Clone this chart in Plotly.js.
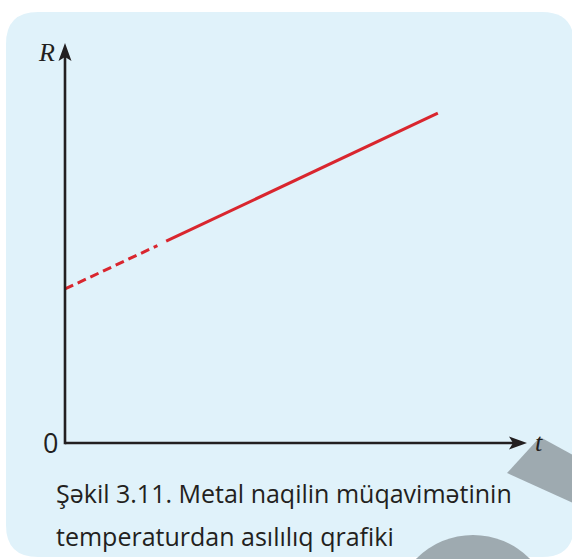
<!DOCTYPE html>
<html>
<head>
<meta charset="utf-8">
<script src="https://cdn.plot.ly/plotly-3.0.1.min.js"></script>
<style>html,body{margin:0;padding:0;background:#fff;}#chart{width:572px;height:559px;}</style>
</head>
<body>
<div id="chart"></div>
<script>
// Data (arbitrary units)
const tDashed = [0, 2.0];
const rDashed = [3.87, 4.96];
const tSolid = [2.19, 8.07];
const rSolid = [5.07, 8.29];
const axisLabels = {x: "t", y: "R", origin: "0"};
const captionLines = ["Şəkil 3.11. Metal naqilin müqavimətinin", "temperaturdan asılılıq qrafiki"];

const W = 572, H = 559;
const px = x => x / W;
const py = y => 1 - y / H;
const ox = 65, oy = 443, xEnd = 527, yTop = 45;   // axis domain in pixels
const xTip = 527, yTip = 43;                       // arrow tips

const red = "#d9262e";
const ink = "#231f20";
const grayShape = "#9eaab0";

const traces = [
  {x: tDashed, y: rDashed, mode: "lines", line: {color: red, width: 3, dash: "9px,5px"}, hoverinfo: "skip"},
  {x: tSolid, y: rSolid, mode: "lines", line: {color: red, width: 3}, hoverinfo: "skip"}
];

function roundRect(x0, y0, x1, y1, r) {
  const P = (x, y) => px(x) + "," + py(y);
  return "M" + P(x0 + r, y0) + " L" + P(x1 - r, y0) + " Q" + P(x1, y0) + " " + P(x1, y0 + r) +
    " L" + P(x1, y1 - r) + " Q" + P(x1, y1) + " " + P(x1 - r, y1) +
    " L" + P(x0 + r, y1) + " Q" + P(x0, y1) + " " + P(x0, y1 - r) +
    " L" + P(x0, y0 + r) + " Q" + P(x0, y0) + " " + P(x0 + r, y0) + " Z";
}
function poly(pts) {
  return "M" + pts.map(p => px(p[0]) + "," + py(p[1])).join(" L") + " Z";
}
// notched arrowhead: tip at (tx,ty), direction (dx,dy) unit, length L, half-width hw, notch n
function arrowHead(tx, ty, dx, dy, L, hw, n) {
  const nx = -dy, ny = dx;
  const bx = tx - dx * L, by = ty - dy * L;
  return poly([[tx, ty], [bx + nx * hw, by + ny * hw], [tx - dx * (L - n), ty - dy * (L - n)], [bx - nx * hw, by - ny * hw]]);
}

const shapes = [
  {type: "path", xref: "paper", yref: "paper", path: roundRect(6, 12, 574, 557, 32), fillcolor: "#e0f2fa", line: {width: 0}, layer: "below"},
  {type: "path", xref: "paper", yref: "paper", path: poly([[507, 473], [540, 437], [580, 459], [580, 506]]), fillcolor: grayShape, line: {width: 0}, layer: "below"},
  {type: "circle", xref: "paper", yref: "paper", x0: px(473 - 80), x1: px(473 + 80), y0: py(615 + 80), y1: py(615 - 80), fillcolor: grayShape, line: {width: 0}, layer: "below"},
  // axes
  {type: "line", xref: "paper", yref: "paper", x0: px(ox), y0: py(oy), x1: px(xTip - 10), y1: py(oy), line: {color: ink, width: 2.6}, layer: "above"},
  {type: "line", xref: "paper", yref: "paper", x0: px(ox), y0: py(oy + 1.3), x1: px(ox), y1: py(yTip + 10), line: {color: ink, width: 2.6}, layer: "above"},
  {type: "path", xref: "paper", yref: "paper", path: arrowHead(xTip, oy, 1, 0, 18, 6.5, 4), fillcolor: ink, line: {width: 0}, layer: "above"},
  {type: "path", xref: "paper", yref: "paper", path: arrowHead(ox, yTip, 0, -1, 18, 6.5, 4), fillcolor: ink, line: {width: 0}, layer: "above"}
];

const annotations = [
  {xref: "paper", yref: "paper", x: px(47), y: py(53), text: "<i>" + axisLabels.y + "</i>", showarrow: false,
   font: {family: "Liberation Serif", size: 26, color: ink}, xanchor: "center", yanchor: "middle"},
  {xref: "paper", yref: "paper", x: px(539), y: py(442), text: "<i>" + axisLabels.x + "</i>", showarrow: false,
   font: {family: "Liberation Serif", size: 26, color: ink}, xanchor: "center", yanchor: "middle"},
  {xref: "paper", yref: "paper", x: px(50), y: py(442), text: axisLabels.origin, showarrow: false,
   font: {family: "Open Sans", size: 27, color: ink}, xanchor: "center", yanchor: "middle"},
  {xref: "paper", yref: "paper", x: px(54), y: py(493), text: captionLines[0], showarrow: false,
   font: {family: "Open Sans", size: 25, color: ink}, xanchor: "left", yanchor: "middle"},
  {xref: "paper", yref: "paper", x: px(54), y: py(536), text: captionLines[1], showarrow: false,
   font: {family: "Open Sans", size: 25, color: ink}, xanchor: "left", yanchor: "middle"}
];

const layout = {
  width: W, height: H,
  margin: {l: 0, r: 0, t: 0, b: 0, pad: 0, autoexpand: false},
  paper_bgcolor: "#ffffff",
  plot_bgcolor: "rgba(0,0,0,0)",
  showlegend: false,
  xaxis: {domain: [px(ox), px(xEnd)], range: [0, 10], showgrid: false, zeroline: false, showticklabels: false, ticks: "", showline: false, fixedrange: true},
  yaxis: {domain: [py(oy), py(yTop)], range: [0, 10], showgrid: false, zeroline: false, showticklabels: false, ticks: "", showline: false, fixedrange: true},
  shapes: shapes,
  annotations: annotations
};

Plotly.newPlot("chart", traces, layout, {staticPlot: true, displayModeBar: false});
</script>
</body>
</html>
